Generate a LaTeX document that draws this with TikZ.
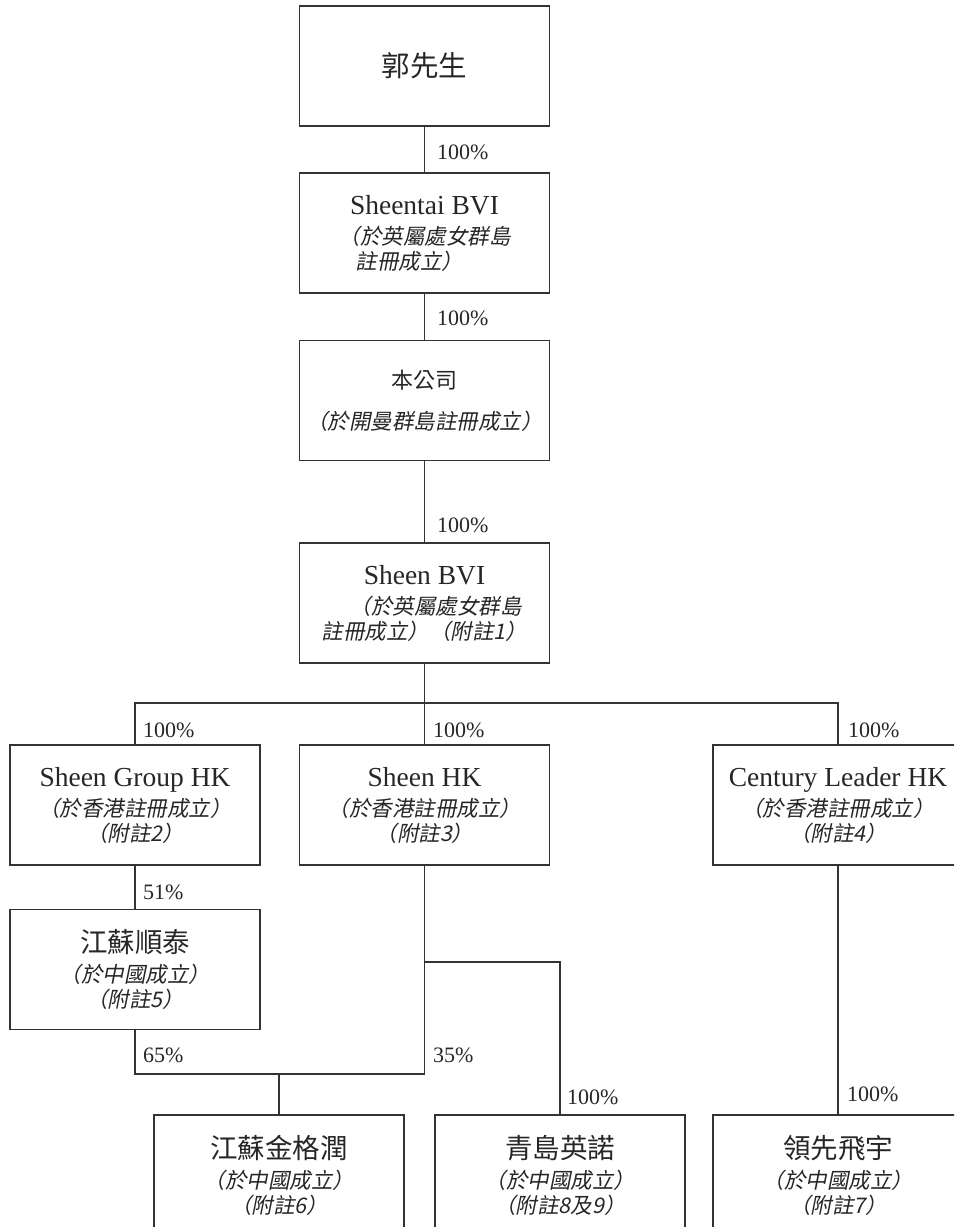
\documentclass[tikz,border=0pt]{standalone}
\usepackage{fontspec}
\setmainfont{Liberation Serif}
\newfontfamily\cjk{Noto Sans CJK TC}
\newfontfamily\cjkit[FakeSlant=0.2]{Noto Sans CJK TC}
\newcommand\namefont{\fontsize{27.5}{31}\selectfont}
\newcommand\notefont{\fontsize{21.5}{25}\selectfont}
\newcommand\zhu[1]{{\cjkit （附註#1）}}
\usetikzlibrary{positioning}

\begin{document}
\begin{tikzpicture}[
        x=1pt, y=-1pt,
        entity/.style = {
            draw=black!80,
            line width=1.2pt,
            rectangle,
            minimum width=250pt,
            minimum height=120pt,
            inner sep=0pt,
            align=center,
            text=black!85,
            font=\notefont
        },
        pct/.style = {
            anchor=west,
            inner sep=0pt,
            text=black!85,
            font=\fontsize{22}{25}\selectfont
        },
        link/.style = {draw=black!80, line width=1.2pt}
        ]
        \clip (0,0) rectangle (954,1227);
%
        \node[entity] (guo) at (424.5,66) {{\fontsize{28.5}{32}\selectfont\cjk 郭先生}};
        \node[entity] (sheentai) at (424.5,233)
            {{\namefont Sheentai BVI}\\[5pt]{\cjkit （於英屬處女群島}\\{\cjkit 註冊成立）}\hspace*{30pt}};
        \node[entity] (company) at (424.5,400.5)
            {{\fontsize{22}{25}\selectfont\cjk 本公司}\\[16pt]{\cjkit （於開曼群島註冊成立）}};
        \node[entity] (sheenbvi) at (424.5,603)
            {{\namefont Sheen BVI}\\[5pt]\hspace*{22pt}{\cjkit （於英屬處女群島}\\{\cjkit 註冊成立）（附註1）}};
%
        \node[entity] (sgroup) at (135,805)
            {{\namefont Sheen Group HK}\\[5pt]{\cjkit （於香港註冊成立）}\\\zhu{2}};
        \node[entity] (sheenhk) at (424.5,805)
            {{\namefont Sheen HK}\\[5pt]{\cjkit （於香港註冊成立）}\\\zhu{3}};
        \node[entity] (century) at (838,805)
            {{\namefont Century Leader HK}\\[5pt]{\cjkit （於香港註冊成立）}\\\zhu{4}};
%
        \node[entity] (shuntai) at (135,969.5)
            {{\namefont\cjk 江蘇順泰}\\[5pt]{\cjkit （於中國成立）}\\\zhu{5}};
%
        \node[entity] (jingerun) at (279,1175)
            {{\namefont\cjk 江蘇金格潤}\\[5pt]{\cjkit （於中國成立）}\\\zhu{6}};
        \node[entity] (qingdao) at (560,1175)
            {{\namefont\cjk 青島英諾}\\[5pt]{\cjkit （於中國成立）}\\\zhu{8及9}};
        \node[entity] (lingxian) at (838,1175)
            {{\namefont\cjk 領先飛宇}\\[5pt]{\cjkit （於中國成立）}\\\zhu{7}};
%
        \coordinate (bus) at (424.5,703);
        \coordinate (joint) at (279,1074);
        \coordinate (branch) at (424.5,962);
%
        \draw[link] (guo) -- (sheentai);
        \draw[link] (sheentai) -- (company);
        \draw[link] (company) -- (sheenbvi);
        \draw[link] (sheenbvi) -- (sheenhk);
        \draw[link] (sgroup.north) |- (bus) -| (century.north);
        \draw[link] (sgroup) -- (shuntai);
        \draw[link] (century) -- (lingxian);
        \draw[link] (shuntai.south) |- (sheenhk.south |- joint) -- (sheenhk.south);
        \draw[link] (joint) -- (jingerun.north);
        \draw[link] (branch) -| (qingdao.north);
%
        \node[pct] (p1) at (437,152) {100\%};
        \node[pct] (p2) at (437,318) {100\%};
        \node[pct] (p3) at (437,525) {100\%};
        \node[pct] (p4) at (143,730) {100\%};
        \node[pct] (p5) at (433,730) {100\%};
        \node[pct] (p6) at (848,730) {100\%};
        \node[pct] (p7) at (143,892) {51\%};
        \node[pct] (p8) at (143,1055) {65\%};
        \node[pct] (p9) at (433,1055) {35\%};
        \node[pct] (p10) at (567,1097) {100\%};
        \node[pct] (p11) at (847,1094) {100\%};
    \end{tikzpicture}
\end{document}
